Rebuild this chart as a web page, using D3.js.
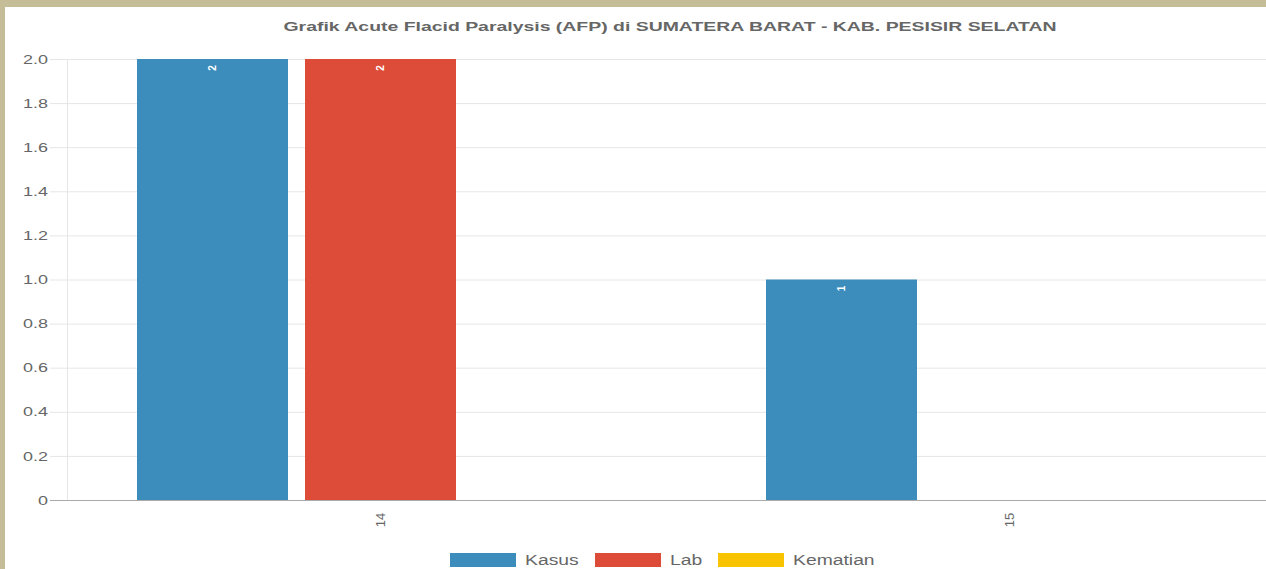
<!DOCTYPE html>
<html><head><meta charset="utf-8">
<script src="https://cdn.jsdelivr.net/npm/d3@7"></script>
<style>
html,body{margin:0;padding:0;background:#c5bd98;overflow:hidden;}
svg{display:block;}
</style></head>
<body>
<svg id="c" width="1266" height="569"></svg>
<script>
const title = "Grafik Acute Flacid Paralysis (AFP) di SUMATERA BARAT - KAB. PESISIR SELATAN";
const categories = ["14", "15"];
const seriesNames = ["Kasus", "Lab", "Kematian"];
const seriesColors = ["#3c8dbc", "#dd4b39", "#f8c300"];
const kasus = [2, 1];
const lab = [2, 0];
const kematian = [0, 0];
const yTicks = [0, 0.2, 0.4, 0.6, 0.8, 1.0, 1.2, 1.4, 1.6, 1.8, 2.0];

const seriesValues = [kasus, lab, kematian];
const svg = d3.select("#c");
const font = "'Liberation Sans', Arial, sans-serif";
const stretch = 1.38;
function widen(sel) {
  sel.each(function() {
    const w = this.getComputedTextLength();
    d3.select(this).attr("textLength", w * stretch).attr("lengthAdjust", "spacingAndGlyphs");
  });
}

// white panel with khaki frame
svg.append("rect").attr("x", 5).attr("y", 7).attr("width", 1261).attr("height", 562).attr("fill", "#fff");

const plotLeft = 66, plotTop = 59, plotBottom = 500;
const x0 = d3.scaleBand().domain(categories).range([plotLeft, plotLeft + 629 * 2]).paddingInner(0).paddingOuter(0);
const x1 = d3.scaleBand().domain(seriesNames).range([71, 629 - 71]).paddingInner(17 / 168).paddingOuter(0);
const y = d3.scaleLinear().domain([0, 2]).range([plotBottom, plotTop]);

// grid
const g = svg.append("g");
g.selectAll("line.grid").data(yTicks.filter(d => d > 0)).enter().append("line")
  .attr("x1", 50).attr("x2", 1266).attr("y1", d => y(d) + 0.5).attr("y2", d => y(d) + 0.5)
  .attr("stroke", "#e6e6e6").attr("stroke-width", 1);
g.append("line").attr("x1", plotLeft + 1.5).attr("x2", plotLeft + 1.5).attr("y1", plotTop).attr("y2", plotBottom)
  .attr("stroke", "#e6e6e6");

// y axis labels
const yAxis = d3.axisLeft(y).tickValues(yTicks).tickSize(0).tickPadding(0)
  .tickFormat(d => d === 0 ? "0" : d3.format(".1f")(d));
const ya = svg.append("g").attr("transform", `translate(48,0)`).call(yAxis);
ya.select(".domain").remove();
ya.selectAll("text").attr("font-family", font).attr("font-size", 13).attr("fill", "#666").attr("dy", "0.32em")
  .call(widen);

// bars
const groups = svg.append("g").selectAll("g").data(categories).enter().append("g")
  .attr("transform", c => `translate(${x0(c)},0)`);
groups.each(function(c, ci) {
  const gg = d3.select(this);
  seriesNames.forEach((s, si) => {
    const v = seriesValues[si][ci];
    if (v > 0) {
      gg.append("rect").attr("x", x1(s)).attr("width", x1.bandwidth())
        .attr("y", y(v)).attr("height", y(0) - y(v)).attr("fill", seriesColors[si]);
      gg.append("text").attr("transform", `translate(${x1(s) + x1.bandwidth() / 2},${y(v) + 9}) rotate(-90)`)
        .attr("text-anchor", "middle").attr("dy", "0.35em")
        .attr("font-family", font).attr("font-size", 10).attr("font-weight", "bold").attr("fill", "#fff").text(v);
    }
  });
});

// baseline
svg.append("line").attr("x1", 50).attr("x2", 1266).attr("y1", plotBottom + 0.5).attr("y2", plotBottom + 0.5)
  .attr("stroke", "#aaa").attr("stroke-width", 1);

// x labels
svg.append("g").selectAll("text").data(categories).enter().append("text")
  .attr("transform", c => `translate(${x0(c) + x0.bandwidth() / 2},${520}) rotate(-90)`)
  .attr("text-anchor", "middle").attr("dy", "0.35em")
  .attr("font-family", font).attr("font-size", 13).attr("fill", "#666").text(c => c);

// title
svg.append("text").attr("x", 670).attr("y", 31).attr("text-anchor", "middle")
  .attr("font-family", font).attr("font-size", 13).attr("font-weight", "bold").attr("fill", "#666")
  .attr("textLength", 773).attr("lengthAdjust", "spacingAndGlyphs").text(title);

// legend
const legendX = [450, 595, 718];
const leg = svg.append("g").selectAll("g").data(seriesNames).enter().append("g")
  .attr("transform", (d, i) => `translate(${legendX[i]},553)`);
leg.append("rect").attr("width", 66).attr("height", 14).attr("fill", (d, i) => seriesColors[i]);
leg.append("text").attr("x", 75).attr("y", 7).attr("dy", "0.35em")
  .attr("font-family", font).attr("font-size", 14).attr("fill", "#666").text(d => d)
  .call(widen);
</script>
</body></html>
